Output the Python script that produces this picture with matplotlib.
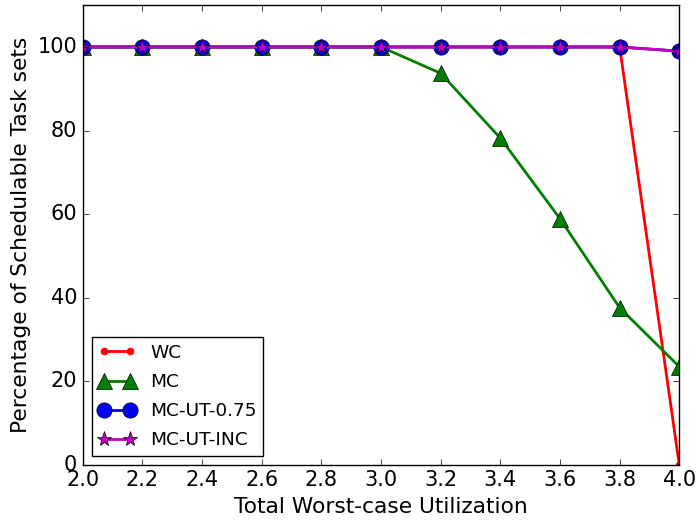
import matplotlib
matplotlib.use("Agg")
import matplotlib.pyplot as plt

plt.style.use("classic")

util = [2.0, 2.2, 2.4, 2.6, 2.8, 3.0, 3.2, 3.4, 3.6, 3.8, 4.0]
wc = [100, 100, 100, 100, 100, 100, 100, 100, 100, 100, 0]
mc = [100, 100, 100, 100, 100, 100, 93.7, 78.2, 58.9, 37.6, 23.5]
mc_ut_075 = [100, 100, 100, 100, 100, 100, 100, 100, 100, 100, 99]
mc_ut_inc = [100, 100, 100, 100, 100, 100, 100, 100, 100, 100, 99]

fig = plt.figure(figsize=(6.96, 5.2), dpi=100)
ax = fig.add_axes([0.119, 0.106, 0.857, 0.884])

ax.plot(util, wc, "r-o", lw=2, markersize=5, mec="r", label="WC")
ax.plot(util, mc, "g-^", lw=2, markersize=11, label="MC")
ax.plot(util, mc_ut_075, "b-o", lw=2, markersize=11, label="MC-UT-0.75")
ax.plot(util, mc_ut_inc, "m-*", lw=2, markersize=11, label="MC-UT-INC")

ax.set_xlim(2.0, 4.0)
ax.set_ylim(0, 110)
ax.set_xticks(util)
ax.set_yticks([0, 20, 40, 60, 80, 100])
ax.tick_params(labelsize=15)
ax.set_xlabel("Total Worst-case Utilization", fontsize=15.7)
ax.set_ylabel("Percentage of Schedulable Task sets", fontsize=15.7)
ax.legend(loc="lower left", fontsize=13.3, numpoints=2, borderpad=0.35,
          labelspacing=0.6)

fig.savefig("out.png", dpi=100)
